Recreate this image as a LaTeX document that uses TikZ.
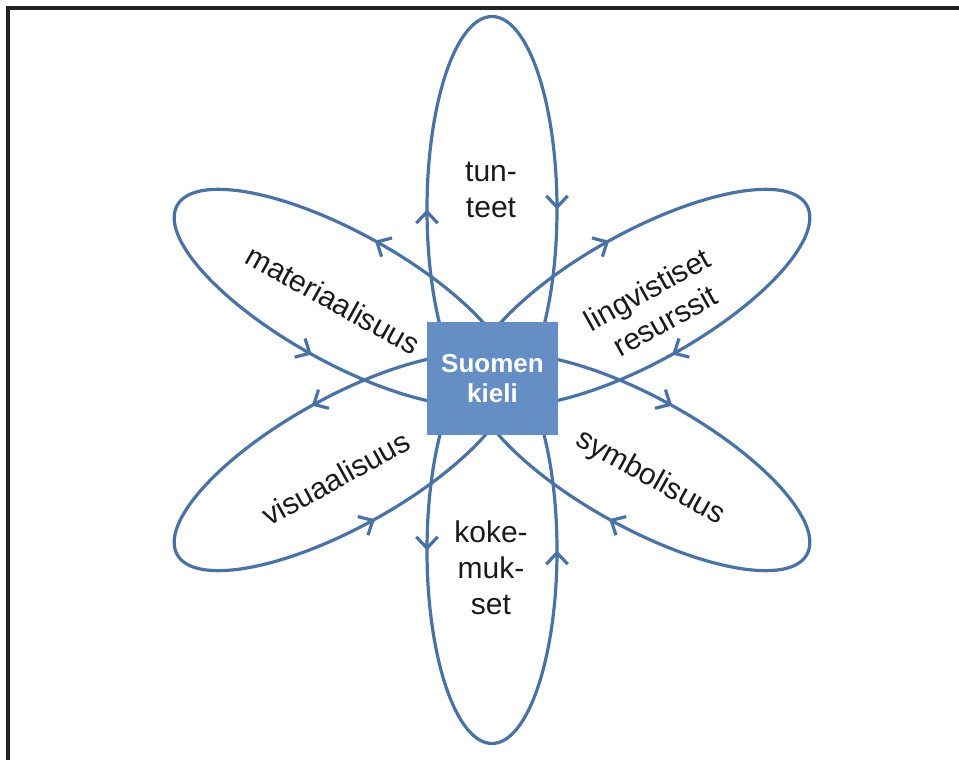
\documentclass[tikz,border=0pt]{standalone}
\usepackage{fontspec}
\setmainfont{Liberation Sans}
\usetikzlibrary{arrows.meta,decorations.markings}
\definecolor{petal}{RGB}{74,114,165}
\definecolor{hubfill}{RGB}{101,143,196}
\definecolor{ink}{RGB}{26,26,26}
\definecolor{framecol}{RGB}{34,34,34}
\begin{document}
\begin{tikzpicture}[x=0.75pt,y=0.75pt,
  >={Straight Barb[length=8.5pt,width=16pt]},
  petalline/.style={draw=petal, line width=2.4pt},
  cwflow/.style={postaction={decorate}, decoration={markings,
      mark=at position 0.25 with {\arrowreversed{>}},
      mark=at position 0.75 with {\arrowreversed{>}}}},
  ccwflow/.style={postaction={decorate}, decoration={markings,
      mark=at position 0.25 with {\arrow{>}},
      mark=at position 0.75 with {\arrow{>}}}},
  hubbox/.style={fill=hubfill, inner sep=0pt, minimum width=98.25pt,
      minimum height=84.75pt, text=white, align=center,
      font=\bfseries\fontsize{19.5}{22.5}\selectfont},
  lbl/.style={text=ink, align=center, inner sep=0pt,
      font=\fontsize{22.5}{27}\selectfont}
]
\useasboundingbox (0,0) rectangle (959,760);

% frame along the top and left edges
\draw[framecol, line width=2.4pt] (8,0) -- (8,752) -- (959,752);

% centre of the flower
\coordinate (c) at (492,380);

% vertical petals
\draw[petalline, cwflow,  shift={(c)}, rotate=90]  (170.5,0) ellipse [x radius=144.75pt, y radius=48.75pt];
\draw[petalline, ccwflow, shift={(c)}, rotate=-90] (170.5,0) ellipse [x radius=144.75pt, y radius=48.75pt];
% slanted petals
\draw[petalline, cwflow,  shift={(c)}, rotate=29]  (170,0) ellipse [x radius=142.5pt, y radius=48.75pt];
\draw[petalline, cwflow,  shift={(c)}, rotate=-29] (170,0) ellipse [x radius=142.5pt, y radius=48.75pt];
\draw[petalline, ccwflow, shift={(c)}, rotate=209] (170,0) ellipse [x radius=142.5pt, y radius=48.75pt];
\draw[petalline, ccwflow, shift={(c)}, rotate=151] (170,0) ellipse [x radius=142.5pt, y radius=48.75pt];

% hub
\node[hubbox] (hub) at (492.5,381.5) {Suomen\\kieli};

% petal labels
\node[lbl] (tunteet) at (491,570) {tun-\\teet};
\node[lbl] (kokemukset) at (491,192) {koke-\\muk-\\set};
\node[lbl, rotate=-29] (materiaalisuus) at (333,460) {materiaalisuus};
\node[lbl, rotate=29] (lingvistiset) at (656,455) {lingvistiset\\resurssit};
\node[lbl, rotate=-29] (symbolisuus) at (650,282) {symbolisuus};
\node[lbl, rotate=29] (visuaalisuus) at (336,282) {visuaalisuus};
\end{tikzpicture}
\end{document}
